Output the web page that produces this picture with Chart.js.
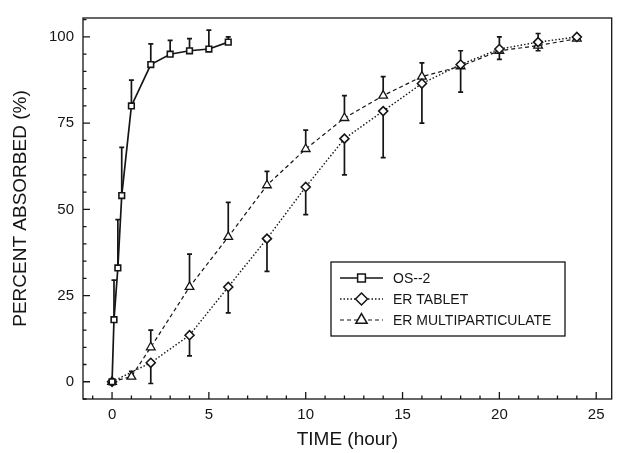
<!DOCTYPE html>
<html>
<head>
<meta charset="utf-8">
<script src="https://cdn.jsdelivr.net/npm/chart.js@4.4.1/dist/chart.umd.min.js"></script>
<style>
  html, body { margin: 0; padding: 0; background: #fff; }
</style>
</head>
<body>
<canvas id="absorbChart" width="618" height="453"></canvas>
<script>
// values
const osTime = [0, 0.1, 0.3, 0.5, 1, 2, 3, 4, 5, 6];
const osMean = [0, 18, 33, 54, 80, 92, 95, 96, 96.5, 98.5];
const osUpper = [null, 29.5, 47, 68, 87.5, 98, 99, 99.5, 102, 100];

const tabletTime = [0, 2, 4, 6, 8, 10, 12, 14, 16, 18, 20, 22, 24];
const tabletMean = [0, 5.5, 13.5, 27.5, 41.5, 56.5, 70.5, 78.5, 86.5, 92, 96.5, 98.5, 100];
const tabletLower = [null, -0.5, 7.5, 20, 32, 48.5, 60, 65, 75, 84, 93.5, 96, null];

const multiTime = [0, 1, 2, 4, 6, 8, 10, 12, 14, 16, 18, 20, 22, 24];
const multiMean = [0, 1.5, 10, 27.5, 42, 57, 67.5, 76.5, 83, 88.5, 91.5, 96, 97.5, 99.5];
const multiUpper = [null, 3, 15, 37, 52, 61, 73, 83, 88.5, 92.5, 96, 100, 101, null];

const xTicks = [0, 5, 10, 15, 20, 25];
const yTicks = [0, 25, 50, 75, 100];

const ink = '#151515';
const FONT = '"Liberation Sans", Arial, Helvetica, sans-serif';

function pts(xs, ys) {
  return xs.map((x, i) => ({ x: x, y: ys[i] }));
}

const bars = [
  { times: osTime, means: osMean, ends: osUpper },
  { times: tabletTime, means: tabletMean, ends: tabletLower },
  { times: multiTime, means: multiMean, ends: multiUpper }
];

// error bars, drawn under the markers
const errorBars = {
  id: 'errorBars',
  beforeDatasetsDraw(chart) {
    const { ctx, scales: { x, y } } = chart;
    ctx.save();
    ctx.strokeStyle = ink;
    ctx.lineWidth = 1.7;
    bars.forEach(b => {
      b.times.forEach((t, i) => {
        const end = b.ends[i];
        if (end == null) return;
        const px = x.getPixelForValue(t);
        const y0 = y.getPixelForValue(b.means[i]);
        const y1 = y.getPixelForValue(end);
        ctx.beginPath();
        ctx.moveTo(px, y0);
        ctx.lineTo(px, y1);
        ctx.moveTo(px - 2.5, y1);
        ctx.lineTo(px + 2.5, y1);
        ctx.stroke();
      });
    });
    ctx.restore();
  }
};

// box round the plot with inward ticks
const frame = {
  id: 'frame',
  afterDraw(chart) {
    const { ctx, chartArea: a, scales: { x, y } } = chart;
    ctx.save();
    ctx.strokeStyle = ink;
    ctx.lineWidth = 1.3;
    ctx.strokeRect(a.left, a.top, a.right - a.left, a.bottom - a.top);
    ctx.beginPath();
    for (let v = -1; v <= 25; v++) {
      const px = x.getPixelForValue(v);
      const len = v % 5 === 0 ? 7 : 3.5;
      ctx.moveTo(px, a.bottom);
      ctx.lineTo(px, a.bottom - len);
    }
    for (let v = -5; v <= 105; v += 5) {
      const py = y.getPixelForValue(v);
      const len = v % 25 === 0 ? 7 : 3.5;
      ctx.moveTo(a.left, py);
      ctx.lineTo(a.left + len, py);
    }
    ctx.stroke();
    ctx.restore();
  }
};

// legend box inside the plot
const legendBox = {
  id: 'legendBox',
  afterDraw(chart) {
    const { ctx } = chart;
    const left = 331, top = 262, right = 565, bottom = 336;
    const rows = [278, 299, 320];
    ctx.save();
    ctx.strokeStyle = ink;
    ctx.lineWidth = 1.3;
    ctx.strokeRect(left, top, right - left, bottom - top);
    chart.data.datasets.forEach((ds, i) => {
      const yy = rows[i];
      ctx.strokeStyle = ink;
      ctx.lineWidth = ds.borderWidth;
      ctx.setLineDash(ds.borderDash || []);
      ctx.beginPath();
      ctx.moveTo(340, yy);
      ctx.lineTo(383, yy);
      ctx.stroke();
      ctx.setLineDash([]);
      ctx.fillStyle = '#fff';
      ctx.lineWidth = 1.5;
      Chart.helpers.drawPoint(ctx, {
        pointStyle: ds.pointStyle,
        radius: ds.pointRadius + 1.5,
        borderWidth: 1.5,
        rotation: 0
      }, 361.5, yy);
      ctx.fillStyle = ink;
      ctx.font = '14px ' + FONT;
      ctx.textBaseline = 'middle';
      ctx.fillText(ds.label, 393, yy + 1);
    });
    ctx.restore();
  }
};

const ctx = document.getElementById('absorbChart').getContext('2d');
new Chart(ctx, {
  type: 'line',
  data: {
    datasets: [
      {
        label: 'OS--2',
        data: pts(osTime, osMean),
        borderColor: ink,
        borderWidth: 1.7,
        pointStyle: 'rect',
        pointRadius: 4,
        pointBackgroundColor: '#fff',
        pointBorderColor: ink,
        pointBorderWidth: 1.6
      },
      {
        label: 'ER TABLET',
        data: pts(tabletTime, tabletMean),
        borderColor: ink,
        borderWidth: 1.4,
        borderDash: [1.5, 2],
        pointStyle: 'rectRot',
        pointRadius: 4.5,
        pointBackgroundColor: '#fff',
        pointBorderColor: ink,
        pointBorderWidth: 1.6
      },
      {
        label: 'ER MULTIPARTICULATE',
        data: pts(multiTime, multiMean),
        borderColor: ink,
        borderWidth: 1.2,
        borderDash: [4, 3],
        pointStyle: 'triangle',
        pointRadius: 5,
        pointBackgroundColor: '#fff',
        pointBorderColor: ink,
        pointBorderWidth: 1.3
      }
    ]
  },
  options: {
    responsive: false,
    animation: false,
    devicePixelRatio: 1,
    layout: { padding: { top: 14, right: 1, left: 0, bottom: 0 } },
    plugins: { legend: { display: false }, tooltip: { enabled: false } },
    scales: {
      x: {
        type: 'linear',
        min: -1.5,
        max: 25.8,
        afterBuildTicks: s => { s.ticks = xTicks.map(v => ({ value: v })); },
        afterFit: s => { s.height = 54; },
        grid: { display: false, drawTicks: false },
        border: { display: false },
        ticks: { padding: 7, color: ink, font: { family: FONT, size: 15 }, maxRotation: 0 },
        title: {
          display: true,
          text: 'TIME (hour)',
          color: ink,
          font: { family: FONT, size: 19 },
          padding: { top: 0, bottom: 2 }
        }
      },
      y: {
        min: -5,
        max: 105.5,
        afterBuildTicks: s => { s.ticks = yTicks.map(v => ({ value: v })); },
        afterFit: s => { s.width = 83; },
        grid: { display: false, drawTicks: false },
        border: { display: false },
        ticks: { padding: 9, color: ink, font: { family: FONT, size: 15 } },
        title: {
          display: true,
          text: 'PERCENT ABSORBED (%)',
          color: ink,
          font: { family: FONT, size: 19 },
          padding: { top: 9, bottom: 0 }
        }
      }
    }
  },
  plugins: [errorBars, frame, legendBox]
});
</script>
</body>
</html>
